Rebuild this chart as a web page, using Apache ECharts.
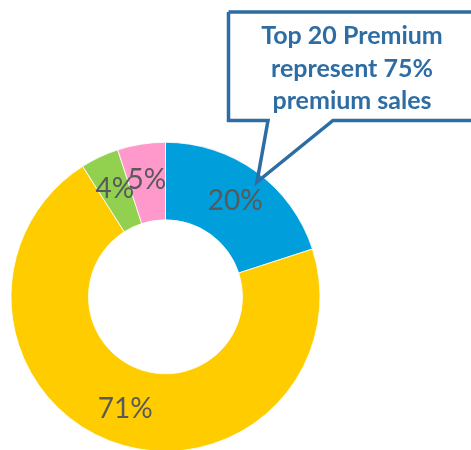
<!DOCTYPE html>
<html>
<head>
<meta charset="utf-8">
<style>
  html, body { margin: 0; padding: 0; background: #ffffff; }
  #chart { width: 471px; height: 450px; }
</style>
<script src="https://cdn.jsdelivr.net/npm/echarts@6/dist/echarts.min.js"></script>
</head>
<body>
<div id="chart"></div>
<script>
// Premium sales share by segment
const categories = ['Top 20 Premium', 'Other Premium', 'Segment C', 'Segment D'];
const shares = [20, 71, 4, 5];
const sliceColors = ['#009EDA', '#FFCC00', '#92D050', '#FF99CC'];
const calloutLines = ['Top 20 Premium', 'represent 75%', 'premium sales'];

const chart = echarts.init(document.getElementById('chart'), null, { renderer: 'canvas' });

const calloutColor = '#2E6DA4';

chart.setOption({
  animation: false,
  backgroundColor: '#ffffff',
  series: [{
    type: 'pie',
    center: [165.5, 296.8],
    radius: [77, 154.5],
    startAngle: 90,
    clockwise: true,
    avoidLabelOverlap: false,
    itemStyle: { borderColor: '#ffffff', borderWidth: 0.8 },
    label: {
      show: true,
      position: 'inside',
      formatter: p => p.value + '%',
      color: '#595959',
      fontFamily: 'Lato',
      fontSize: 28
    },
    labelLayout: { hideOverlap: false },
    labelLine: { show: false },
    emphasis: { disabled: true },
    data: categories.map((name, i) => ({
      name,
      value: shares[i],
      itemStyle: { color: sliceColors[i] }
    }))
  }],
  graphic: [
    {
      type: 'polyline',
      z: 10,
      shape: {
        points: [
          [228.5, 12], [482, 12], [482, 120.5], [333, 120.5],
          [257, 182], [268, 120.5], [228.5, 120.5], [228.5, 12]
        ]
      },
      style: { stroke: calloutColor, lineWidth: 3.5, fill: null, lineJoin: 'miter' }
    },
    {
      type: 'text',
      z: 11,
      x: 352,
      y: 20,
      style: {
        text: calloutLines.join('\n'),
        fill: calloutColor,
        font: 'bold 25px Lato',
        lineHeight: 32.5,
        align: 'center',
        verticalAlign: 'top'
      }
    }
  ]
});
</script>
</body>
</html>
